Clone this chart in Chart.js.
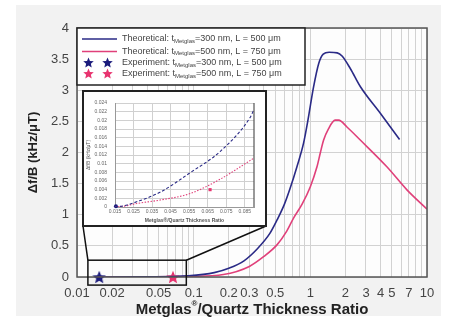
<!DOCTYPE html>
<html>
<head>
<meta charset="utf-8">
<script src="https://cdn.jsdelivr.net/npm/chart.js@4"></script>
<style>
body { margin: 0; background: #fff; }
#wrap { position: relative; width: 449px; height: 320px; }
#panel { position: absolute; left: 16px; top: 5px; width: 425px; height: 311px; background: #f2f2f2; }
#main { position: absolute; left: 0; top: 0; }
#insetBox { position: absolute; left: 82px; top: 90px; width: 185px; height: 137px; box-sizing: border-box; border: 2px solid #222; background: #fff; }
</style>
</head>
<body>
<div id="wrap">
  <div id="panel"></div>
  <canvas id="main" width="449" height="320"></canvas>
  <div id="insetBox"><canvas id="inset" width="181" height="133"></canvas></div>
</div>
<script>
// main chart: theoretical curves (log x)
let blueX = [0.015, 0.04, 0.09, 0.15, 0.2, 0.27, 0.35, 0.45, 0.52, 0.6, 0.67, 0.77, 0.875, 0.95, 1.0, 1.065, 1.18, 1.29, 1.45, 1.7, 1.87, 2.2, 2.68, 3.98, 5.82]
let blueY = [0, 0.003, 0.02, 0.07, 0.14, 0.26, 0.45, 0.7, 0.92, 1.17, 1.42, 1.78, 2.15, 2.5, 2.75, 3.05, 3.43, 3.58, 3.61, 3.6, 3.55, 3.35, 3.06, 2.63, 2.21]
let pinkX = [0.015, 0.04, 0.09, 0.18, 0.3, 0.4, 0.52, 0.62, 0.72, 0.85, 1.0, 1.14, 1.22, 1.3, 1.43, 1.63, 1.75, 2.06, 2.68, 4.53, 6.73, 10]
let pinkY = [0, 0.002, 0.01, 0.04, 0.17, 0.33, 0.52, 0.72, 0.95, 1.17, 1.45, 1.77, 2.0, 2.2, 2.38, 2.52, 2.52, 2.41, 2.2, 1.77, 1.4, 1.09]

// experiment points
let expBlue = [0.0155, 0]
let expPink = [0.0665, 0]

// inset (linear zoom of the lower left corner)
let insetX = [0.015, 0.02, 0.0267, 0.0393, 0.0555, 0.0717, 0.0878, 0.09]
let insetBlueY = [0, 0.0003, 0.0012, 0.0034, 0.0079, 0.0128, 0.0206, 0.0225]
let insetPinkY = [0, 0.0002, 0.0008, 0.0016, 0.0031, 0.0064, 0.0107, 0.0113]
let insetExpBlue = [0.0155, 0.0002]
let insetExpPink = [0.0663, 0.004]

let xTickLabels = [0.01, 0.02, 0.05, 0.1, 0.2, 0.3, 0.5, 1, 2, 3, 4, 5, 7, 10]
let insetXTicks = [0.015, 0.025, 0.035, 0.045, 0.055, 0.065, 0.075, 0.085]
let insetYTicks = [0, 0.002, 0.004, 0.006, 0.008, 0.01, 0.012, 0.014, 0.016, 0.018, 0.02, 0.022, 0.024]

// region of the main chart shown in the inset
let zoomX = [0.0124, 0.0865]
let zoomY = [-0.13, 0.27]

let blueColor = '#2a2a86'
let pinkColor = '#e0407a'
let starBlueColor = '#1b1b7c'
let starPinkColor = '#e8336f'
let fontFam = '"Liberation Sans", Arial, sans-serif'

let legendRows = [
    { kind: 'line', color: blueColor, pre: 'Theoretical: t', sub: 'Metglas', post: '=300 nm, L = 500 \u03bcm' },
    { kind: 'line', color: pinkColor, pre: 'Theoretical: t', sub: 'Metglas', post: '=500 nm, L = 750 \u03bcm' },
    { kind: 'star', color: starBlueColor, pre: 'Experiment: t', sub: 'Metglas', post: '=300 nm, L = 500 \u03bcm' },
    { kind: 'star', color: starPinkColor, pre: 'Experiment: t', sub: 'Metglas', post: '=500 nm, L = 750 \u03bcm' },
]

function pts(xs, ys) {
    return xs.map((x, i) => ({ x: x, y: ys[i] }))
}

function starImage(color, size) {
    let c = document.createElement('canvas')
    c.width = size
    c.height = size
    let g = c.getContext('2d')
    let r = size / 2, ri = r * 0.45
    g.beginPath()
    for (let i = 0; i < 10; i++) {
        let a = -Math.PI / 2 + i * Math.PI / 5
        let rr = i % 2 ? ri : r
        g.lineTo(r + rr * Math.cos(a), r * 1.1 + rr * Math.sin(a))
    }
    g.closePath()
    g.fillStyle = color
    g.fill()
    return c
}

let gridVals = []
for (let e = -2; e <= 0; e++) {
    for (let k = 1; k <= 9; k++) gridVals.push(+(k * Math.pow(10, e)).toPrecision(3))
}
gridVals.push(10)

let plotBg = {
    id: 'plotBg',
    beforeDraw(chart) {
        let a = chart.chartArea, ctx = chart.ctx
        ctx.save()
        ctx.fillStyle = '#fdfdfd'
        ctx.fillRect(a.left, a.top, a.right - a.left, a.bottom - a.top)
        ctx.restore()
    },
}

let mainExtras = {
    id: 'mainExtras',
    afterDraw(chart) {
        let a = chart.chartArea, ctx = chart.ctx
        let xs = chart.scales.x, ys = chart.scales.y
        ctx.save()
        // frame
        ctx.strokeStyle = '#555'
        ctx.lineWidth = 1.5
        ctx.strokeRect(a.left, a.top, a.right - a.left, a.bottom - a.top)

        // legend box
        let lx = a.left, ly = a.top, lw = 228, lh = 57
        ctx.fillStyle = '#fff'
        ctx.fillRect(lx, ly, lw, lh)
        ctx.strokeStyle = '#222'
        ctx.lineWidth = 1.5
        ctx.strokeRect(lx, ly, lw, lh)
        let rowY = [ly + 11, ly + 23.5, ly + 35, ly + 46]
        legendRows.forEach((row, i) => {
            let y = rowY[i]
            if (row.kind === 'line') {
                ctx.strokeStyle = row.color
                ctx.lineWidth = 1.5
                ctx.beginPath()
                ctx.moveTo(lx + 5, y)
                ctx.lineTo(lx + 40, y)
                ctx.stroke()
            } else {
                let img = starImage(row.color, 11)
                ctx.drawImage(img, lx + 6, y - 6)
                ctx.drawImage(img, lx + 25, y - 6)
            }
            let tx = lx + 45
            ctx.fillStyle = '#444'
            ctx.textBaseline = 'middle'
            ctx.textAlign = 'left'
            ctx.font = '9px ' + fontFam
            ctx.fillText(row.pre, tx, y)
            tx += ctx.measureText(row.pre).width
            ctx.font = '6px ' + fontFam
            ctx.fillText(row.sub, tx, y + 2)
            tx += ctx.measureText(row.sub).width
            ctx.font = '9px ' + fontFam
            ctx.fillText(row.post, tx, y)
        })

        // zoom rectangle and leader lines to the inset
        let zl = xs.getPixelForValue(zoomX[0]), zr = xs.getPixelForValue(zoomX[1])
        let zt = ys.getPixelForValue(zoomY[1]), zb = ys.getPixelForValue(zoomY[0])
        ctx.strokeStyle = '#111'
        ctx.lineWidth = 1.5
        ctx.strokeRect(zl, zt, zr - zl, zb - zt)
        let box = document.getElementById('insetBox')
        let bl = box.offsetLeft, br = box.offsetLeft + box.offsetWidth, bb = box.offsetTop + box.offsetHeight
        ctx.beginPath()
        ctx.moveTo(zl, zt)
        ctx.lineTo(bl + 1, bb - 1)
        ctx.moveTo(zr, zt)
        ctx.lineTo(br - 1, bb - 1)
        ctx.stroke()

        // x axis title with superscript
        let cx = (a.left + a.right) / 2, cy = 310
        let p1 = 'Metglas', sup = '\u00ae', p2 = '/Quartz Thickness Ratio'
        ctx.fillStyle = '#222'
        ctx.font = 'bold 15px ' + fontFam
        let w1 = ctx.measureText(p1).width, w3 = ctx.measureText(p2).width
        ctx.font = 'bold 8px ' + fontFam
        let w2 = ctx.measureText(sup).width
        let x0 = cx - (w1 + w2 + w3) / 2
        ctx.textAlign = 'left'
        ctx.textBaseline = 'middle'
        ctx.font = 'bold 15px ' + fontFam
        ctx.fillText(p1, x0, cy)
        ctx.font = 'bold 8px ' + fontFam
        ctx.fillText(sup, x0 + w1, cy - 6)
        ctx.font = 'bold 15px ' + fontFam
        ctx.fillText(p2, x0 + w1 + w2, cy)
        ctx.restore()
    },
}

let mainChart = new Chart(document.getElementById('main').getContext('2d'), {
    type: 'scatter',
    data: {
        datasets: [
            { data: pts(blueX, blueY), showLine: true, borderColor: blueColor, borderWidth: 1.6, pointRadius: 0, cubicInterpolationMode: 'monotone' },
            { data: pts(pinkX, pinkY), showLine: true, borderColor: pinkColor, borderWidth: 1.6, pointRadius: 0, cubicInterpolationMode: 'monotone' },
            { data: [{ x: expBlue[0], y: expBlue[1] }], pointStyle: starImage(starBlueColor, 14), clip: false },
            { data: [{ x: expPink[0], y: expPink[1] }], pointStyle: starImage(starPinkColor, 14), clip: false },
        ],
    },
    options: {
        responsive: false,
        animation: false,
        layout: { padding: { left: 22, right: 22, top: 28, bottom: 0 } },
        plugins: { legend: { display: false }, tooltip: { enabled: false } },
        scales: {
            x: {
                type: 'logarithmic',
                min: 0.01,
                max: 10,
                afterBuildTicks: (s) => { s.ticks = gridVals.map(v => ({ value: v })) },
                afterFit: (s) => { s.height = 43 },
                grid: { color: '#d2d2d2', drawTicks: false },
                border: { display: false },
                ticks: {
                    autoSkip: false,
                    maxRotation: 0,
                    padding: 9,
                    color: '#444',
                    font: { family: fontFam, size: 13 },
                    callback: (v) => xTickLabels.find(t => Math.abs(t - v) < 1e-9 * Math.max(1, v)) !== undefined ? String(v) : '',
                },
            },
            y: {
                min: 0,
                max: 4,
                afterFit: (s) => { s.width = 55 },
                grid: { color: '#d2d2d2', drawTicks: false },
                border: { display: false },
                ticks: { stepSize: 0.5, padding: 8, color: '#444', font: { family: fontFam, size: 13 }, callback: (v) => String(v) },
                title: { display: true, text: '\u0394f/B (kHz/\u03bcT)', color: '#222', font: { family: fontFam, size: 13, weight: 'bold' } },
            },
        },
    },
    plugins: [plotBg, mainExtras],
})

let insetFrame = {
    id: 'insetFrame',
    afterDraw(chart) {
        let a = chart.chartArea, ctx = chart.ctx
        ctx.save()
        ctx.strokeStyle = '#555'
        ctx.lineWidth = 1.2
        ctx.beginPath()
        ctx.moveTo(a.right, a.top)
        ctx.lineTo(a.right, a.bottom)
        ctx.stroke()
        ctx.restore()
    },
}

let insetChart = new Chart(document.getElementById('inset').getContext('2d'), {
    type: 'scatter',
    data: {
        datasets: [
            { data: pts(insetX, insetBlueY), showLine: true, borderColor: blueColor, borderWidth: 1.1, borderDash: [3, 2], pointRadius: 0, cubicInterpolationMode: 'monotone' },
            { data: pts(insetX, insetPinkY), showLine: true, borderColor: pinkColor, borderWidth: 1.1, borderDash: [1.5, 1.5], pointRadius: 0, cubicInterpolationMode: 'monotone' },
            { data: [{ x: insetExpBlue[0], y: insetExpBlue[1] }], pointStyle: 'circle', pointRadius: 2, backgroundColor: starBlueColor, borderWidth: 0, clip: false },
            { data: [{ x: insetExpPink[0], y: insetExpPink[1] }], pointStyle: 'rect', pointRadius: 2.2, backgroundColor: starPinkColor, borderWidth: 0 },
        ],
    },
    options: {
        responsive: false,
        animation: false,
        layout: { padding: { left: 0, right: 11, top: 8, bottom: 0 } },
        plugins: { legend: { display: false }, tooltip: { enabled: false } },
        scales: {
            x: {
                type: 'linear',
                min: 0.015,
                max: 0.09,
                afterBuildTicks: (s) => { s.ticks = insetXTicks.map(v => ({ value: v })) },
                afterFit: (s) => { s.height = 18 },
                grid: { color: '#d0d0d0', drawTicks: false },
                border: { color: '#999' },
                ticks: { autoSkip: false, maxRotation: 0, padding: 2, color: '#666', font: { family: fontFam, size: 5 }, callback: (v) => String(v) },
                title: { display: true, text: 'Metglas\u00ae/Quartz Thickness Ratio', color: '#555', padding: 1, font: { family: fontFam, size: 5, weight: 'bold' } },
            },
            y: {
                min: 0,
                max: 0.024,
                afterBuildTicks: (s) => { s.ticks = insetYTicks.map(v => ({ value: v })) },
                afterFit: (s) => { s.width = 31 },
                grid: { color: '#d0d0d0', drawTicks: false },
                border: { color: '#999' },
                ticks: { autoSkip: false, padding: 8, color: '#666', font: { family: fontFam, size: 5 }, callback: (v) => String(v) },
                title: { display: true, text: '\u0394f/B (kHz/\u03bcT)', color: '#555', padding: { top: 2, bottom: 0 }, font: { family: fontFam, size: 5 } },
            },
        },
    },
    plugins: [insetFrame],
})
</script>
</body>
</html>
